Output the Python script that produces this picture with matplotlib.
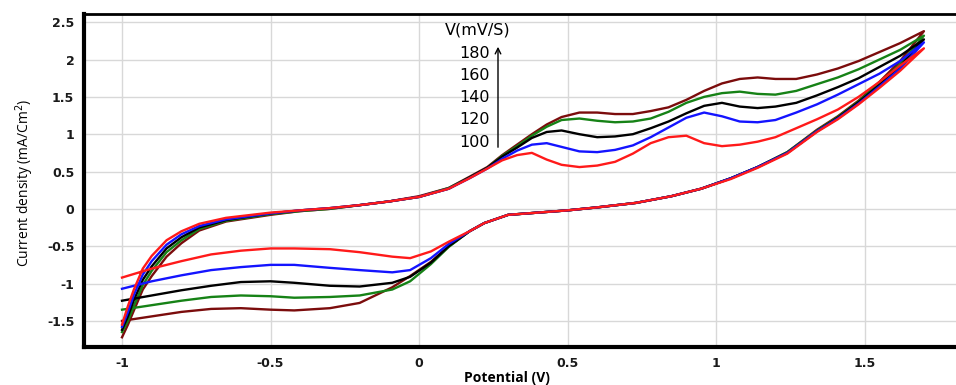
import numpy as np
import matplotlib
matplotlib.use('Agg')
from matplotlib import pyplot as plt

# scan rates (mV/s) and line colours
rates = [180, 160, 140, 120, 100]
colors = ['#7b0c0c', '#168216', '#000000', '#1414ff', '#ff1a1a']

# forward (anodic) branch, shared potential grid
x_up = [-1.0, -0.98, -0.96, -0.93, -0.9, -0.85, -0.8, -0.74, -0.65, -0.5,
        -0.4, -0.3, -0.2, -0.1, 0.0, 0.1, 0.17, 0.23, 0.28, 0.33, 0.38, 0.43,
        0.48, 0.54, 0.6, 0.66, 0.72, 0.78, 0.84, 0.9, 0.96, 1.02, 1.08, 1.14,
        1.2, 1.27, 1.34, 1.41, 1.48, 1.55, 1.62, 1.70]

y_up_180 = [-1.72, -1.55, -1.36, -1.08, -0.90, -0.64, -0.46, -0.29, -0.17, -0.08,
            -0.03, 0.00, 0.05, 0.10, 0.17, 0.28, 0.43, 0.56, 0.72, 0.86, 1.00, 1.13,
            1.23, 1.29, 1.29, 1.27, 1.27, 1.31, 1.36, 1.46, 1.58, 1.68, 1.74, 1.76,
            1.74, 1.74, 1.80, 1.88, 1.98, 2.10, 2.22, 2.38]
y_up_160 = [-1.65, -1.50, -1.30, -1.02, -0.83, -0.58, -0.42, -0.27, -0.16, -0.07,
            -0.03, 0.00, 0.05, 0.10, 0.16, 0.28, 0.42, 0.55, 0.71, 0.84, 0.98, 1.10,
            1.19, 1.21, 1.18, 1.16, 1.17, 1.21, 1.30, 1.42, 1.50, 1.55, 1.57, 1.54,
            1.53, 1.58, 1.67, 1.76, 1.87, 2.00, 2.13, 2.32]
y_up_140 = [-1.62, -1.44, -1.22, -0.95, -0.77, -0.53, -0.38, -0.25, -0.15, -0.06,
            -0.02, 0.01, 0.05, 0.10, 0.16, 0.27, 0.42, 0.55, 0.70, 0.82, 0.95, 1.03,
            1.05, 1.00, 0.96, 0.97, 1.00, 1.08, 1.17, 1.28, 1.38, 1.42, 1.37, 1.35,
            1.37, 1.42, 1.52, 1.63, 1.75, 1.90, 2.05, 2.27]
y_up_120 = [-1.58, -1.38, -1.15, -0.88, -0.70, -0.48, -0.34, -0.23, -0.14, -0.06,
            -0.02, 0.01, 0.05, 0.10, 0.16, 0.27, 0.41, 0.54, 0.67, 0.78, 0.86, 0.88,
            0.83, 0.77, 0.76, 0.79, 0.85, 0.96, 1.09, 1.22, 1.29, 1.24, 1.17, 1.16,
            1.19, 1.29, 1.40, 1.53, 1.67, 1.81, 1.98, 2.23]
y_up_100 = [-1.55, -1.30, -1.08, -0.80, -0.63, -0.42, -0.30, -0.20, -0.12, -0.05,
            -0.02, 0.01, 0.05, 0.10, 0.16, 0.27, 0.41, 0.54, 0.65, 0.72, 0.75, 0.66,
            0.59, 0.56, 0.58, 0.63, 0.74, 0.88, 0.96, 0.98, 0.88, 0.84, 0.86, 0.90,
            0.96, 1.08, 1.20, 1.33, 1.50, 1.70, 1.92, 2.15]

# reverse (cathodic) branch, shared potential grid
x_down = [1.70, 1.62, 1.55, 1.48, 1.41, 1.34, 1.24, 1.14, 1.05, 0.95, 0.85,
          0.73, 0.6, 0.5, 0.4, 0.3, 0.22, 0.17, 0.1, 0.04, -0.03, -0.09, -0.2,
          -0.3, -0.42, -0.5, -0.6, -0.7, -0.8, -0.9, -1.0]

y_down_180 = [2.38, 1.98, 1.70, 1.45, 1.24, 1.06, 0.76, 0.56, 0.41, 0.27, 0.17,
              0.08, 0.02, -0.02, -0.05, -0.08, -0.19, -0.30, -0.50, -0.71, -0.90, -1.05, -1.26,
              -1.33, -1.36, -1.35, -1.33, -1.34, -1.38, -1.44, -1.50]
y_down_160 = [2.32, 1.94, 1.68, 1.44, 1.23, 1.05, 0.76, 0.56, 0.41, 0.27, 0.17,
              0.08, 0.02, -0.02, -0.05, -0.08, -0.19, -0.30, -0.51, -0.74, -0.97, -1.08, -1.16,
              -1.18, -1.19, -1.17, -1.16, -1.18, -1.23, -1.29, -1.35]
y_down_140 = [2.27, 1.91, 1.66, 1.43, 1.22, 1.04, 0.75, 0.56, 0.41, 0.27, 0.17,
              0.08, 0.02, -0.02, -0.05, -0.08, -0.19, -0.30, -0.50, -0.72, -0.91, -0.99, -1.04,
              -1.03, -0.99, -0.97, -0.98, -1.03, -1.09, -1.16, -1.23]
y_down_120 = [2.23, 1.88, 1.64, 1.41, 1.21, 1.04, 0.75, 0.56, 0.41, 0.27, 0.17,
              0.08, 0.02, -0.02, -0.05, -0.08, -0.19, -0.30, -0.47, -0.66, -0.82, -0.85, -0.82,
              -0.79, -0.75, -0.75, -0.78, -0.82, -0.89, -0.97, -1.07]
y_down_100 = [2.15, 1.85, 1.62, 1.40, 1.20, 1.03, 0.74, 0.55, 0.40, 0.27, 0.17,
              0.08, 0.02, -0.02, -0.05, -0.08, -0.19, -0.30, -0.44, -0.57, -0.66, -0.64, -0.58,
              -0.54, -0.53, -0.53, -0.56, -0.61, -0.70, -0.80, -0.92]

up = [y_up_180, y_up_160, y_up_140, y_up_120, y_up_100]
down = [y_down_180, y_down_160, y_down_140, y_down_120, y_down_100]

xticks = [-1, -0.5, 0, 0.5, 1, 1.5]
yticks = [-1.5, -1, -0.5, 0, 0.5, 1, 1.5, 2, 2.5]

fig = plt.figure(figsize=(9.56, 3.85), dpi=100)
ax = fig.add_axes([84/956, 1 - 347/385, 1 - 84/956, (347 - 14)/385])

for yu, yd, c in zip(up, down, colors):
    ax.plot(x_up + x_down, yu + yd, color=c, lw=1.7, solid_joinstyle='round')

ax.set_xlim(-1.128, 1.808)
ax.set_ylim(-1.85, 2.61)
ax.set_xticks(xticks)
ax.set_yticks(yticks)
ax.set_xticklabels(['%g' % t for t in xticks])
ax.set_yticklabels(['%g' % t for t in yticks])
ax.grid(True, color='#d8d8d8', lw=1)
ax.set_axisbelow(True)
ax.tick_params(length=0, labelsize=9, pad=7)
for lab in ax.get_xticklabels() + ax.get_yticklabels():
    lab.set_fontweight('bold')
    lab.set_color('#1a1a1a')

ax.spines['right'].set_visible(False)
ax.spines['left'].set_linewidth(3)
ax.spines['bottom'].set_linewidth(3)
ax.spines['top'].set_linewidth(2)

fig.text(25/956, 1 - 183/385, 'Current density (mA/Cm$^2$)', rotation=90,
         ha='center', va='center', fontsize=10, family='Open Sans')
fig.text(507/956, 1 - 378/385, 'Potential (V)', ha='center', va='center',
         fontsize=10, fontweight='bold', family='Open Sans')

# scan-rate label with arrow
fig.text(478/956, 1 - 30/385, 'V(mV/S)', ha='center', va='center',
         fontsize=11.5, family='DejaVu Sans')
for i, r in enumerate(rates):
    fig.text(490/956, 1 - (53 + 22.3*i)/385, str(r), ha='right', va='center',
             fontsize=11.5, family='DejaVu Sans')
ax.annotate('', xy=(498/956, 1 - 44/385), xytext=(498/956, 1 - 150/385),
            xycoords='figure fraction', textcoords='figure fraction',
            arrowprops=dict(arrowstyle='->', color='black', lw=1))

plt.savefig('out.png', dpi=100)
